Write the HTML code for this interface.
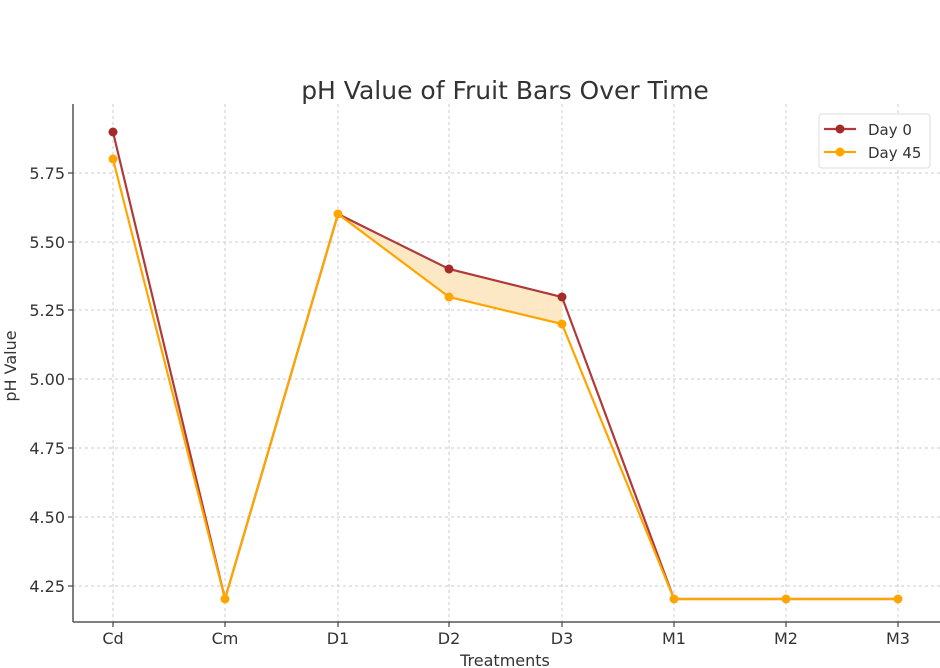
<!DOCTYPE html>
<html><head><meta charset="utf-8"><style>body{margin:0;background:#fff}svg{display:block}text{font-family:"DejaVu Sans","Liberation Sans",sans-serif;fill:#333}</style></head>
<body>
<svg width="940" height="668" xmlns="http://www.w3.org/2000/svg">
<text x="505" y="99" font-size="25" text-anchor="middle">pH Value of Fruit Bars Over Time</text>
<g stroke="#ccc" stroke-width="1" stroke-dasharray="3,3">
<line x1="113" y1="104" x2="113" y2="622"/><line x1="225" y1="104" x2="225" y2="622"/><line x1="338" y1="104" x2="338" y2="622"/><line x1="449" y1="104" x2="449" y2="622"/><line x1="562" y1="104" x2="562" y2="622"/><line x1="674" y1="104" x2="674" y2="622"/><line x1="786" y1="104" x2="786" y2="622"/><line x1="898" y1="104" x2="898" y2="622"/>
<line x1="73" y1="173" x2="940" y2="173"/><line x1="73" y1="242" x2="940" y2="242"/><line x1="73" y1="310" x2="940" y2="310"/><line x1="73" y1="379" x2="940" y2="379"/><line x1="73" y1="448" x2="940" y2="448"/><line x1="73" y1="517" x2="940" y2="517"/><line x1="73" y1="586" x2="940" y2="586"/>
</g>
<polygon points="338,214 449,269 562,297 562,324 449,297 338,214" fill="#fde6c0" opacity="0.9"/>
<g fill="none" stroke-width="2.2">
<polyline stroke="#b03a3a" points="113,132 225,599 338,214 449,269 562,297 674,599 786,599 898,599"/>
<polyline stroke="#ffa500" points="113,159 225,599 338,214 449,297 562,324 674,599 786,599 898,599"/>
</g>
<g fill="#a52a2a"><circle cx="113" cy="132" r="4.5"/><circle cx="449" cy="269" r="4.5"/><circle cx="562" cy="297" r="4.5"/></g>
<g fill="#ffa500"><circle cx="113" cy="159" r="4.5"/><circle cx="225" cy="599" r="4.5"/><circle cx="338" cy="214" r="4.5"/><circle cx="449" cy="297" r="4.5"/><circle cx="562" cy="324" r="4.5"/><circle cx="674" cy="599" r="4.5"/><circle cx="786" cy="599" r="4.5"/><circle cx="898" cy="599" r="4.5"/></g>
<g stroke="#555" stroke-width="1.5">
<line x1="73" y1="104" x2="73" y2="622"/><line x1="73" y1="622" x2="940" y2="622"/>
</g>
<g stroke="#444" stroke-width="1.2">
<line x1="68" y1="173" x2="73" y2="173"/><line x1="68" y1="242" x2="73" y2="242"/><line x1="68" y1="310" x2="73" y2="310"/><line x1="68" y1="379" x2="73" y2="379"/><line x1="68" y1="448" x2="73" y2="448"/><line x1="68" y1="517" x2="73" y2="517"/><line x1="68" y1="586" x2="73" y2="586"/>
<line x1="113" y1="622" x2="113" y2="627"/><line x1="225" y1="622" x2="225" y2="627"/><line x1="338" y1="622" x2="338" y2="627"/><line x1="449" y1="622" x2="449" y2="627"/><line x1="562" y1="622" x2="562" y2="627"/><line x1="674" y1="622" x2="674" y2="627"/><line x1="786" y1="622" x2="786" y2="627"/><line x1="898" y1="622" x2="898" y2="627"/>
</g>
<g font-size="16" text-anchor="end">
<text x="65" y="179">5.75</text><text x="65" y="248">5.50</text><text x="65" y="316">5.25</text><text x="65" y="385">5.00</text><text x="65" y="454">4.75</text><text x="65" y="523">4.50</text><text x="65" y="592">4.25</text>
</g>
<g font-size="16" text-anchor="middle">
<text x="113" y="644">Cd</text><text x="225" y="644">Cm</text><text x="338" y="644">D1</text><text x="449" y="644">D2</text><text x="562" y="644">D3</text><text x="674" y="644">M1</text><text x="786" y="644">M2</text><text x="898" y="644">M3</text>
<text x="505" y="666">Treatments</text>
</g>
<text x="16" y="366" font-size="16" text-anchor="middle" transform="rotate(-90 16 366)">pH Value</text>
<rect x="819" y="114" width="111" height="54" rx="3" fill="#fff" stroke="#ddd"/>
<line x1="824" y1="129" x2="856" y2="129" stroke="#b03a3a" stroke-width="2.2"/><circle cx="840" cy="129" r="4.5" fill="#a52a2a"/>
<line x1="824" y1="152" x2="856" y2="152" stroke="#ffa500" stroke-width="2.2"/><circle cx="840" cy="152" r="4.5" fill="#ffa500"/>
<text x="868" y="135" font-size="15">Day 0</text>
<text x="868" y="158" font-size="15">Day 45</text>
</svg>
</body></html>
